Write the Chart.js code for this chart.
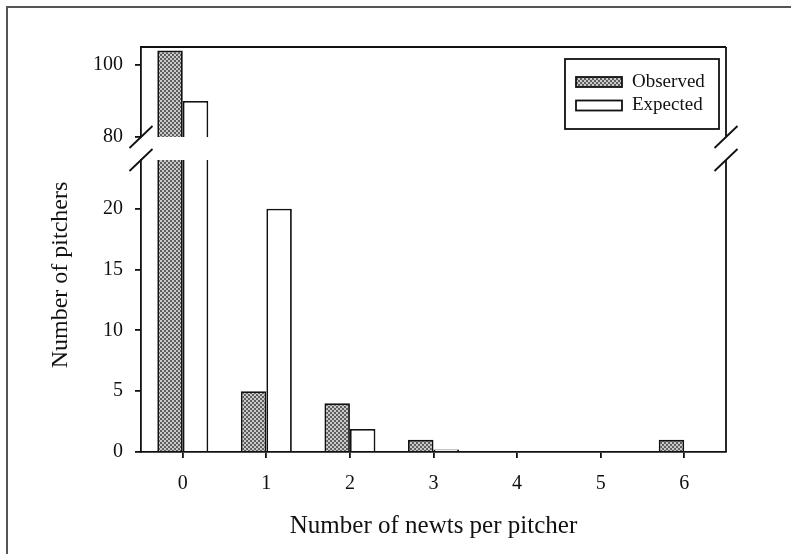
<!DOCTYPE html>
<html><head><meta charset="utf-8">
<script src="https://cdn.jsdelivr.net/npm/chart.js@4.4.0/dist/chart.umd.min.js"></script>
<style>
html,body{margin:0;padding:0;background:#fff;}
#wrap{position:relative;width:791px;height:554px;overflow:hidden;background:#fff;}
#frame{position:absolute;left:6px;top:6px;width:900px;height:700px;border-top:2px solid #555;border-left:2px solid #555;}
canvas{position:absolute;left:0;top:0;}
</style></head><body>
<div id="wrap"><div id="frame"></div>
<canvas id="low" width="791" height="554"></canvas>
<canvas id="up" width="791" height="554"></canvas>
</div>
<script>
// ---- data ----
const categories = ['0', '1', '2', '3', '4', '5', '6'];
const observed = [104, 5, 4, 1, 0, 0, 1];
const expected = [90, 20, 1.9, 0.2, 0.02, 0, 0];
const seriesLabels = ['Observed', 'Expected'];
const lowerTicks = [0, 5, 10, 15, 20];
const upperTicks = [80, 100];
const lowerRange = [0, 24];
const upperRange = [80, 105];
const xTitle = 'Number of newts per pitcher';
const yTitle = 'Number of pitchers';

// ---- styles ----
const INK = '#111';
const LW = 1.8;
const SERIF = '"Liberation Serif", "Times New Roman", serif';

function makePattern() {
  const c = document.createElement('canvas');
  c.width = 4; c.height = 4;
  const g = c.getContext('2d');
  g.fillStyle = '#5e5e5e'; g.fillRect(0, 0, 4, 4);
  g.fillStyle = '#cacaca'; g.fillRect(0, 0, 2, 2); g.fillRect(2, 2, 2, 2);
  return g.createPattern(c, 'repeat');
}
const obsFill = makePattern();

function datasets() {
  return [
    {label: seriesLabels[0], data: observed, backgroundColor: obsFill, borderColor: INK, borderWidth: LW, clip: 0,
     categoryPercentage: 0.61, barPercentage: 1.0},
    {label: seriesLabels[1], data: expected, backgroundColor: '#fff', borderColor: INK, borderWidth: LW, clip: 0,
     categoryPercentage: 0.61, barPercentage: 1.0}
  ];
}

function slash(ctx, x, y) {
  ctx.moveTo(x - 11.5, y + 11);
  ctx.lineTo(x + 11.5, y - 11);
}

function framePlugin(part) {
  return {
    id: 'frameBreak',
    afterDraw(chart) {
      const {ctx, chartArea: a} = chart;
      ctx.save();
      ctx.strokeStyle = INK; ctx.lineWidth = LW;
      ctx.beginPath();
      if (part === 'upper') {
        ctx.moveTo(a.left, a.top); ctx.lineTo(a.right, a.top);
        ctx.moveTo(a.right, a.top); ctx.lineTo(a.right, a.bottom);
        slash(ctx, a.left, a.bottom); slash(ctx, a.right, a.bottom);
      } else {
        ctx.moveTo(a.right, a.top); ctx.lineTo(a.right, a.bottom);
        slash(ctx, a.left, a.top); slash(ctx, a.right, a.top);
      }
      ctx.stroke();
      ctx.restore();
    }
  };
}

const legendPlugin = {
  id: 'boxLegend',
  afterDraw(chart) {
    const {ctx, chartArea: a} = chart;
    const w = 154, h = 70;
    const bx = a.right - 7 - w, by = a.top + 12;
    ctx.save();
    ctx.strokeStyle = INK; ctx.lineWidth = LW;
    ctx.strokeRect(bx, by, w, h);
    ctx.font = '19px ' + SERIF;
    ctx.textBaseline = 'middle'; ctx.textAlign = 'left';
    chart.data.datasets.forEach((ds, i) => {
      const sy = by + 18 + i * 23.5;
      ctx.fillStyle = ds.backgroundColor;
      ctx.fillRect(bx + 11, sy, 46, 10);
      ctx.strokeRect(bx + 11, sy, 46, 10);
      ctx.fillStyle = INK;
      ctx.fillText(ds.label, bx + 67, sy + 5);
    });
    ctx.restore();
  }
};

const yTitlePlugin = {
  id: 'yTitle',
  afterDraw(chart) {
    const ctx = chart.ctx;
    ctx.save();
    ctx.translate(66.5, 275);
    ctx.rotate(-Math.PI / 2);
    ctx.font = '24px ' + SERIF;
    ctx.fillStyle = INK;
    ctx.textAlign = 'center'; ctx.textBaseline = 'alphabetic';
    ctx.fillText(yTitle, 0, 0);
    ctx.restore();
  }
};

function yAxis(range, tickList) {
  return {
    type: 'linear', min: range[0], max: range[1],
    afterBuildTicks(s) { s.ticks = tickList.map(v => ({value: v})); },
    grid: {display: true, drawOnChartArea: false, drawTicks: true, tickLength: 6, color: INK, lineWidth: LW},
    border: {display: true, color: INK, width: LW, z: 1},
    ticks: {color: INK, font: {family: SERIF, size: 20}, padding: 12},
    afterFit(s) { s.width = 141; }
  };
}

Chart.defaults.font.family = SERIF;

new Chart(document.getElementById('low'), {
  type: 'bar',
  data: {labels: categories, datasets: datasets()},
  options: {
    responsive: false, animation: false,
    layout: {padding: {top: 160, right: 65, bottom: 10, left: 0}},
    plugins: {legend: {display: false}, tooltip: {enabled: false}},
    scales: {
      x: {
        type: 'category', offset: true,
        grid: {display: true, drawOnChartArea: false, drawTicks: true, tickLength: 6, color: INK, lineWidth: LW, offset: false},
        border: {display: true, color: INK, width: LW, z: 1},
        ticks: {color: INK, font: {family: SERIF, size: 20}, padding: 14, maxRotation: 0},
        title: {display: true, text: xTitle, color: INK, font: {family: SERIF, size: 25}, padding: {top: 0, bottom: 3}},
        afterFit(s) { s.height = 92; }
      },
      y: yAxis(lowerRange, lowerTicks)
    }
  },
  plugins: [framePlugin('lower'), yTitlePlugin]
});

new Chart(document.getElementById('up'), {
  type: 'bar',
  data: {labels: categories, datasets: datasets()},
  options: {
    responsive: false, animation: false,
    layout: {padding: {top: 47, right: 65, bottom: 417, left: 0}},
    plugins: {legend: {display: false}, tooltip: {enabled: false}},
    scales: {
      x: {type: 'category', offset: true, display: false},
      y: yAxis(upperRange, upperTicks)
    }
  },
  plugins: [framePlugin('upper'), legendPlugin]
});
</script>
</body></html>
